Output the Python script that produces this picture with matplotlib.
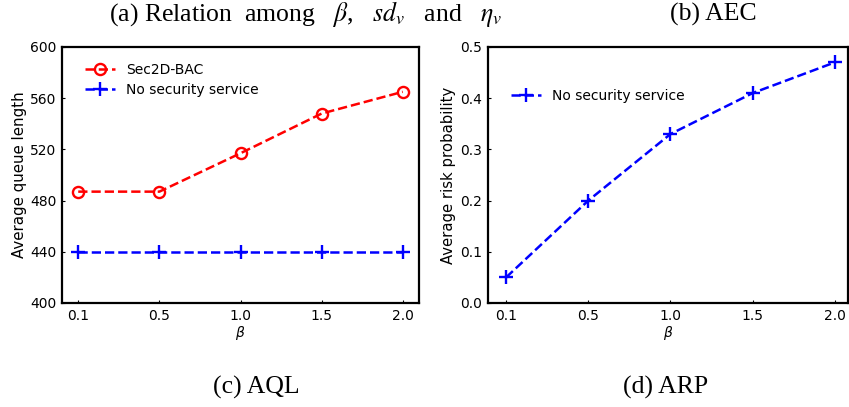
import matplotlib
matplotlib.use("Agg")
import matplotlib.pyplot as plt
import numpy as np

beta_labels = ["0.1", "0.5", "1.0", "1.5", "2.0"]
aql_sec2d = [487, 487, 517, 548, 565]
aql_nosec = [440, 440, 440, 440, 440]
arp_nosec = [0.05, 0.20, 0.33, 0.41, 0.47]
aql_yticks = [400, 440, 480, 520, 560, 600]
arp_yticks = [0.0, 0.1, 0.2, 0.3, 0.4, 0.5]

W, H = 849, 407
fig = plt.figure(figsize=(W / 100, H / 100), dpi=100)

def px_axes(l, t, r, b):
    return fig.add_axes([l / W, (H - b) / H, (r - l) / W, (b - t) / H])

x = np.arange(len(beta_labels))

def style(ax):
    for s in ax.spines.values():
        s.set_linewidth(1.6)
    ax.tick_params(direction="in", length=2, width=0.8, labelsize=10, pad=4)
    ax.set_xticks(x)
    ax.set_xticklabels(beta_labels)
    ax.set_xlabel(r"$\beta$", fontsize=10, labelpad=1)

ax1 = px_axes(62, 47, 419, 303)
ax1.plot(x, aql_sec2d, "--", color="red", marker="o", markersize=8,
         markerfacecolor="none", markeredgewidth=1.7, linewidth=1.8, label="Sec2D-BAC")
ax1.plot(x, aql_nosec, "--", color="blue", marker="+", markersize=10,
         markeredgewidth=1.7, linewidth=1.8, label="No security service")
ax1.set_xlim(-0.2, 4.2)
ax1.set_ylim(400, 600)
ax1.set_yticks(aql_yticks)
ax1.set_ylabel("Average queue length", fontsize=10.8, labelpad=2)
style(ax1)
ax1.legend(loc="upper left", frameon=False, fontsize=10, handlelength=2.2,
           bbox_to_anchor=(0.04, 0.97), borderaxespad=0.2, labelspacing=0.45)

ax2 = px_axes(488, 47, 848, 303)
ax2.plot(x, arp_nosec, "--", color="blue", marker="+", markersize=10,
         markeredgewidth=1.7, linewidth=1.8, label="No security service")
ax2.set_xlim(-0.22, 4.16)
ax2.set_ylim(0.0, 0.5)
ax2.set_yticks(arp_yticks)
ax2.set_yticklabels([f"{v:.1f}" for v in arp_yticks])
ax2.set_ylabel("Average risk probability", fontsize=10.7, labelpad=3)
style(ax2)
ax2.legend(loc="upper left", frameon=False, fontsize=10, handlelength=2.2,
           bbox_to_anchor=(0.04, 0.87), borderaxespad=0.2)

cap = dict(fontfamily="Liberation Serif", fontsize=18.5, ha="center", va="center",
           math_fontfamily="stix")
fig.text(306 / W, 1 - 14 / H,
         r"(a) Relation  among   $\beta$,   $sd_v$   and   $\eta_v$", **cap)
fig.text(713 / W, 1 - 14 / H, "(b) AEC", **cap)
fig.text(256 / W, 1 - 387 / H, "(c) AQL", **cap)
fig.text(666 / W, 1 - 387 / H, "(d) ARP", **cap)

fig.savefig("out.png", dpi=100)
